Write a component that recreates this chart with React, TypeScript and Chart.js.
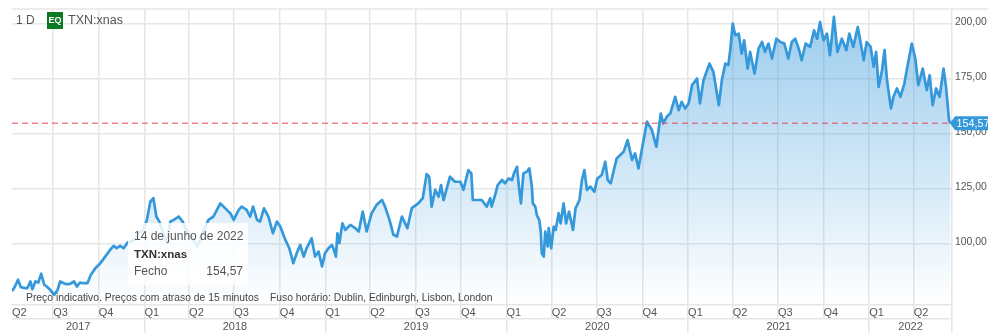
import { useEffect, useRef } from "react";
import { Chart, registerables } from "chart.js";

Chart.register(...registerables);

// Session positions, in calendar days since 1 April 2017, and TXN closes on those sessions.
const sessionDays = [
  8, 14, 20, 26, 33, 39, 45, 49, 55, 61, 67, 73, 78, 85, 93, 100, 105, 112, 118, 125,
  133, 139, 145, 152, 160, 167, 176, 186, 196, 206, 213, 219, 226, 233, 241, 253, 263, 273, 280, 287,
  293, 299, 305, 313, 320, 327, 334, 344, 352, 360, 370, 381, 387, 395, 404, 414, 428, 438, 448, 455,
  465, 471, 481, 488, 494, 502, 508, 516, 525, 534, 542, 549, 559, 567, 575, 582, 589, 596, 602, 612,
  619, 626, 633, 639, 646, 653, 657, 661, 664, 668, 674, 680, 690, 700, 707, 715, 723, 733, 743, 754,
  760, 769, 777, 784, 794, 805, 814, 827, 836, 844, 849, 854, 861, 868, 873, 878, 891, 901, 912, 918,
  928, 934, 937, 945, 955, 965,
  972, 975, 982, 987, 996, 1002, 1009, 1016, 1020, 1026, 1030, 1034, 1039, 1046, 1051, 1056, 1058, 1063, 1066, 1071,
  1074, 1076, 1080, 1083, 1088, 1090, 1095, 1100, 1104, 1110, 1114, 1120, 1125, 1131, 1139, 1144, 1152, 1157, 1162, 1167,
  1174, 1182, 1188, 1197, 1204, 1209, 1215, 1227, 1241,
  1249, 1258, 1264, 1271, 1280, 1288, 1298, 1307, 1316, 1321, 1328, 1335, 1345, 1352, 1358, 1365, 1372, 1379,
  1389, 1395, 1402, 1414, 1422, 1428, 1433, 1439, 1446, 1452, 1456, 1461, 1466, 1473, 1479, 1484, 1491, 1496, 1505, 1513,
  1520, 1526, 1533, 1540, 1549, 1557, 1565, 1573, 1580, 1587, 1594, 1600, 1608, 1617, 1625, 1631, 1637, 1644, 1651, 1657,
  1665, 1672, 1681, 1690, 1696, 1704, 1713, 1718, 1725, 1731, 1739, 1745, 1750, 1755, 1762, 1767, 1772, 1780, 1785, 1792,
  1799, 1807, 1813, 1822, 1829, 1835, 1844, 1852, 1858, 1864, 1871, 1878, 1886, 1891, 1897, 1900,
];

const closes = [
  78.2, 80.4, 83.5, 80.1, 79.7, 79.7, 82.7, 79.2, 82.7, 82.2, 86.2, 81.2, 80.4, 78.9, 76.6, 78.9, 82.7, 81.9, 81.5, 81.6,
  82.7, 80.4, 82.2, 81.9, 81.9, 85.7, 88.7, 91.0, 94.0, 97.1, 98.9, 97.8, 98.9, 97.8, 100.4, 101.3, 104.6, 106.1, 110.7, 119.0,
  120.5, 112.2, 109.9, 104.6, 100.1, 109.9, 110.7, 112.2, 109.9, 106.1, 103.1, 98.6, 101.6, 106.1, 110.7, 112.2, 118.2, 115.9, 113.7, 110.7,
  115.2, 116.7, 115.2, 112.2, 116.7, 110.7, 109.9, 115.9, 112.2, 104.6, 109.9, 107.6, 101.6, 97.8, 91.0, 95.5, 99.3, 94.0, 97.8, 102.3,
  94.0, 96.3, 89.5, 95.5, 97.8, 99.3, 97.1, 94.0, 104.6, 100.1, 109.1, 106.1, 108.4, 106.9, 105.4, 114.4, 105.4, 113.7, 117.5, 119.7,
  116.7, 110.7, 103.9, 103.1, 112.2, 106.9, 116.0, 118.2, 120.5, 131.5, 130.3, 116.7, 124.3, 121.2, 126.5, 119.7, 130.3, 128.0, 128.0, 124.3,
  133.3, 131.8, 119.7, 119.7, 119.7, 116.7,
  120.5, 116.7, 122.0, 126.5, 128.8, 127.3, 129.5, 128.8, 131.8, 134.8, 125.8, 118.2, 131.8, 132.6, 134.1, 125.8, 118.2, 116.7, 112.9, 110.6,
  105.4, 95.5, 94.0, 105.4, 98.6, 106.9, 97.8, 107.6, 106.1, 113.7, 109.1, 118.2, 109.1, 114.4, 106.1, 115.9, 119.7, 128.8, 133.3, 124.3,
  125.8, 123.5, 129.5, 131.1, 137.1, 128.8, 127.3, 138.6, 141.6,
  146.9, 137.9, 140.9, 134.1, 145.4, 155.3, 151.5, 143.9, 159.0, 154.5, 157.5, 159.0, 166.6, 160.5, 164.3, 161.3, 163.6, 171.9,
  174.9, 163.6, 174.1, 181.7, 177.9, 169.6, 162.8, 174.1, 181.7, 181.0, 187.8, 199.9, 194.6, 195.3, 186.2, 192.3, 179.4, 187.0, 177.2, 188.5,
  191.5, 187.0, 190.8, 184.0, 193.0, 191.5, 190.8, 184.0, 191.5, 193.0, 188.5, 183.2, 190.8, 189.3, 196.8, 193.0, 200.6, 192.3, 195.3, 185.5,
  202.9, 187.0, 193.0, 187.8, 195.3, 189.3, 198.3, 192.3, 183.2, 191.5, 189.3, 180.2, 187.0, 171.1, 178.7, 187.8, 174.1, 161.3, 166.6, 170.4,
  166.6, 172.6, 180.2, 190.8, 184.0, 171.9, 179.4, 169.6, 176.4, 162.8, 170.4, 166.6, 179.4, 171.1, 156.0, 154.57,
];

const lastClose = 154.57;
const lastCloseLabel = "154,57";
const priceTicks = [100, 125, 150, 175, 200];

const firstDay = 8;
const lastDay = 1903;
const quarterDays = [8, 91, 183, 275, 365, 456, 548, 640, 730, 821, 913, 1005, 1096, 1187, 1279, 1371, 1461, 1552, 1644, 1736, 1826];
const quarterLabels = ["Q2", "Q3", "Q4", "Q1", "Q2", "Q3", "Q4", "Q1", "Q2", "Q3", "Q4", "Q1", "Q2", "Q3", "Q4", "Q1", "Q2", "Q3", "Q4", "Q1", "Q2"];
const yearStarts = [275, 640, 1005, 1371, 1736];
const yearLabels = ["2017", "2018", "2019", "2020", "2021", "2022"];

const gridColor = "#e6e6e6";
const lineBlue = "#3498db";
const textGrey = "#555555";
const fontFamily = '"Liberation Sans", Arial, sans-serif';

const yearEdges = [firstDay, ...yearStarts, lastDay];
const yearTicks = [
  ...yearLabels.map((label, i) => ({ value: (yearEdges[i] + yearEdges[i + 1]) / 2, label })),
  ...yearEdges.slice(1).map((value) => ({ value, label: "" })),
].sort((a, b) => a.value - b.value);

const chartFurniture = {
  id: "chartFurniture",
  beforeDatasetsDraw(chart: any) {
    const { ctx, chartArea } = chart;
    ctx.save();
    ctx.strokeStyle = gridColor;
    ctx.lineWidth = 1.5;
    ctx.beginPath();
    ctx.moveTo(chartArea.left, chartArea.top);
    ctx.lineTo(988, chartArea.top);
    ctx.stroke();
    ctx.restore();
  },
  afterDraw(chart: any) {
    const { ctx } = chart;
    const y = chart.scales.y.getPixelForValue(lastClose);
    ctx.save();
    ctx.textBaseline = "middle";

    // Last-price flag on the price axis
    ctx.fillStyle = lineBlue;
    ctx.beginPath();
    ctx.moveTo(950, y);
    ctx.lineTo(955, y - 7);
    ctx.lineTo(988, y - 7);
    ctx.lineTo(988, y + 7);
    ctx.lineTo(955, y + 7);
    ctx.closePath();
    ctx.fill();
    ctx.fillStyle = "#ffffff";
    ctx.font = `10.8px ${fontFamily}`;
    ctx.textAlign = "left";
    ctx.fillText(lastCloseLabel, 956.5, y + 0.5);

    // Instrument header
    ctx.fillStyle = textGrey;
    ctx.font = `12px ${fontFamily}`;
    ctx.fillText("1 D", 16, 20.5);
    ctx.fillStyle = "#0b7a22";
    ctx.fillRect(47, 12, 16, 17);
    ctx.fillStyle = "#ffffff";
    ctx.font = `bold 9px ${fontFamily}`;
    ctx.textAlign = "center";
    ctx.fillText("EQ", 55, 21);
    ctx.textAlign = "left";
    ctx.fillStyle = textGrey;
    ctx.font = `12.5px ${fontFamily}`;
    ctx.fillText("TXN:xnas", 68, 21);

    // Hover card
    ctx.fillStyle = "rgba(255,255,255,0.85)";
    ctx.fillRect(128, 223, 120, 62);
    ctx.fillStyle = textGrey;
    ctx.font = `12px ${fontFamily}`;
    ctx.fillText("14 de junho de 2022", 134, 236.5);
    ctx.fillStyle = "#333333";
    ctx.font = `bold 11.5px ${fontFamily}`;
    ctx.fillText("TXN:xnas", 134, 255);
    ctx.fillStyle = textGrey;
    ctx.font = `12px ${fontFamily}`;
    ctx.fillText("Fecho", 134, 272);
    ctx.textAlign = "right";
    ctx.fillText(lastCloseLabel, 243, 272);

    // Data notice
    ctx.textAlign = "left";
    ctx.fillStyle = "#444444";
    ctx.font = `10.35px ${fontFamily}`;
    ctx.fillText("Preço indicativo. Preços com atraso de 15 minutos", 26, 298);
    ctx.fillText("Fuso horário: Dublin, Edinburgh, Lisbon, London", 270, 298);
    ctx.restore();
  },
};

export default function App() {
  const canvasRef = useRef<HTMLCanvasElement | null>(null);

  useEffect(() => {
    const chart = new Chart(canvasRef.current as HTMLCanvasElement, {
      type: "line",
      plugins: [chartFurniture],
      data: {
        datasets: [
          {
            label: "Último fecho",
            data: [
              { x: firstDay, y: lastClose },
              { x: lastDay, y: lastClose },
            ],
            borderColor: "rgba(235,75,90,0.68)",
            borderWidth: 1.5,
            borderDash: [6, 4],
            pointRadius: 0,
            fill: false,
            order: 0,
          },
          {
            label: "TXN:xnas",
            data: sessionDays.map((x, i) => ({ x, y: closes[i] })),
            borderColor: lineBlue,
            borderWidth: 2.7,
            borderJoinStyle: "round",
            pointRadius: 0,
            tension: 0,
            fill: "start",
            order: 1,
            backgroundColor: (ctx: any) => {
              const area = ctx.chart.chartArea;
              if (!area) return "rgba(52,152,219,0.3)";
              const g = ctx.chart.ctx.createLinearGradient(0, area.top, 0, area.bottom);
              g.addColorStop(0, "rgba(52,152,219,0.5)");
              g.addColorStop(1, "rgba(52,152,219,0)");
              return g;
            },
          },
        ],
      },
      options: {
        responsive: false,
        animation: false,
        layout: { autoPadding: false, padding: { left: 12, top: 9, right: 0, bottom: 0 } },
        plugins: { legend: { display: false }, tooltip: { enabled: false }, title: { display: false } },
        events: [],
        scales: {
          x: {
            type: "linear",
            position: "bottom",
            weight: 1,
            min: firstDay,
            max: lastDay,
            afterBuildTicks: (s: any) => {
              s.ticks = [...quarterDays, lastDay].map((value) => ({ value }));
            },
            afterFit: (s: any) => {
              s.height = 14;
            },
            border: { display: true, color: gridColor, width: 1.5 },
            grid: {
              color: (c: any) => (c.index === 0 ? "transparent" : gridColor),
              tickColor: (c: any) => (c.index === 0 ? "transparent" : gridColor),
              lineWidth: 1.5,
              tickLength: 14,
            },
            ticks: {
              autoSkip: false,
              maxRotation: 0,
              minRotation: 0,
              align: "start",
              padding: -13,
              color: textGrey,
              font: { family: fontFamily, size: 11 },
              callback: (_v: any, i: number) => quarterLabels[i] ?? "",
            },
          },
          xYear: {
            type: "linear",
            position: "bottom",
            weight: 2,
            min: firstDay,
            max: lastDay,
            afterBuildTicks: (s: any) => {
              s.ticks = yearTicks.map(({ value }) => ({ value }));
            },
            afterFit: (s: any) => {
              s.height = 14;
            },
            border: { display: true, color: gridColor, width: 1.5 },
            grid: {
              drawOnChartArea: false,
              tickColor: (c: any) => (yearTicks[c.index]?.label ? "transparent" : gridColor),
              lineWidth: 1.5,
              tickLength: 14,
            },
            ticks: {
              autoSkip: false,
              maxRotation: 0,
              minRotation: 0,
              padding: -13,
              color: textGrey,
              font: { family: fontFamily, size: 11 },
              callback: (_v: any, i: number) => yearTicks[i]?.label ?? "",
            },
          },
          y: {
            type: "linear",
            position: "right",
            min: 72,
            max: 206.5,
            afterBuildTicks: (s: any) => {
              s.ticks = priceTicks.map((value) => ({ value }));
            },
            afterFit: (s: any) => {
              s.width = 46;
            },
            border: { display: false },
            grid: { color: gridColor, lineWidth: 1.5, drawTicks: false },
            ticks: {
              padding: 3,
              color: textGrey,
              font: { family: fontFamily, size: 10.4, lineHeight: "3px" },
              // The empty second line lifts each label slightly above its grid line.
              callback: (v: any) => [Number(v).toFixed(2).replace(".", ","), ""],
            },
          },
        },
      },
    } as any);
    return () => chart.destroy();
  }, []);

  return (
    <div style={{ position: "absolute", left: 0, top: 0, width: 998, height: 333 }}>
      <canvas ref={canvasRef} width={998} height={333} style={{ display: "block" }} />
    </div>
  );
}
